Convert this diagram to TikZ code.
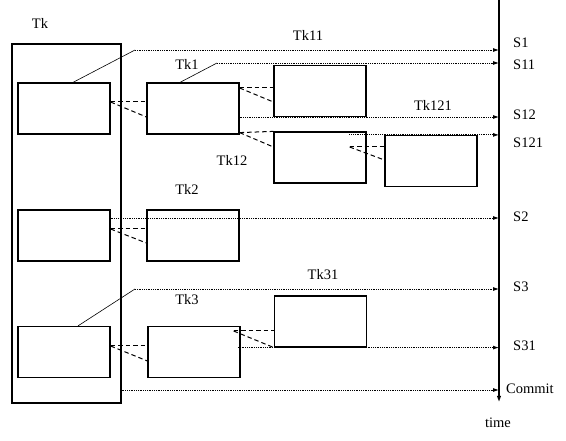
\documentclass[tikz,border=0pt]{standalone}
\usepackage{fontspec}
\setmainfont{Liberation Serif}
\usepackage{tikz}
\usetikzlibrary{positioning, arrows.meta, calc}

\begin{document}
\begin{tikzpicture}[x=1pt, y=-1pt,
    box/.style={draw, rectangle, minimum width=92pt, minimum height=51pt, inner sep=0pt, line width=1.2pt},
    lbl/.style={inner sep=0pt, font=\fontsize{14.5}{16}\selectfont},
    link/.style={line width=1pt, dash pattern=on 4.5pt off 3pt},
    lead/.style={line width=0.6pt},
    msg/.style={densely dotted, line width=0.8pt, -{Latex[length=6pt, width=4pt]}}
]
\useasboundingbox (0,0) rectangle (566,441);

% --- BOXES ---
\node[box, minimum width=109pt, minimum height=359pt] (tk) at (66.5, 223.5) {};
\node[box] (a1) at (64, 108.5) {};
\node[box] (a2) at (64, 235.5) {};
\node[box] (a3) at (64, 352) {};

\node[box] (tk1) at (193, 108.5) {};
\node[box] (tk2) at (193, 235.5) {};
\node[box] (tk3) at (194, 352) {};

\node[box] (tk11) at (320, 91) {};
\node[box] (tk12) at (320, 157.5) {};
\node[box] (tk121) at (431, 161) {};
\node[box] (tk31) at (320.5, 321.5) {};

% --- TIME AXIS ---
\coordinate (ttop) at (499, 0);
\coordinate (tbot) at (499, 405);
\draw[line width=2pt, -{Latex[length=9pt, width=4pt]}] (ttop) -- (tbot);

% --- LABELS ---
\node[lbl] (ltk) at (40, 23) {Tk};
\node[lbl] (ltk1) at (187, 64) {Tk1};
\node[lbl] (ltk11) at (308, 35) {Tk11};
\node[lbl] (ltk12) at (232, 160) {Tk12};
\node[lbl] (ltk121) at (433, 105) {Tk121};
\node[lbl] (ltk2) at (187, 189) {Tk2};
\node[lbl] (ltk3) at (187, 300) {Tk3};
\node[lbl] (ltk31) at (323, 275) {Tk31};

\node[lbl, anchor=west] (s1) at (513, 43) {S1};
\node[lbl, anchor=west] (s11) at (513, 65) {S11};
\node[lbl, anchor=west] (s12) at (513, 115) {S12};
\node[lbl, anchor=west] (s121) at (513, 143) {S121};
\node[lbl, anchor=west] (s2) at (513, 217) {S2};
\node[lbl, anchor=west] (s3) at (513, 287) {S3};
\node[lbl, anchor=west] (s31) at (513, 346) {S31};
\node[lbl, anchor=west] (commit) at (506, 389) {Commit};
\node[lbl] (time) at (498, 423) {time};

% --- SUB-TRANSACTION LINKS ---
\draw[link] ([yshift=6.5pt]a1.east) -- ([yshift=6.5pt]tk1.west);
\draw[link] ([yshift=6.5pt]a1.east) -- ([yshift=-8.5pt]tk1.west);
\draw[link] ([yshift=20.5pt]tk1.east) -- ([yshift=3pt]tk11.west);
\draw[link] ([yshift=20.5pt]tk1.east) -- ([yshift=-11pt]tk11.west);
\draw[link] ([yshift=2pt]tk1.south east) -- (tk12.north west);
\draw[link] ([yshift=2pt]tk1.south east) -- ([yshift=10.5pt]tk12.west);
\draw[link] ([xshift=-17pt, yshift=10.5pt]tk12.east) -- ([yshift=14pt]tk121.west);
\draw[link] ([xshift=-17pt, yshift=10.5pt]tk12.east) -- ([yshift=1pt]tk121.west);
\draw[link] ([yshift=6.5pt]a2.east) -- ([yshift=6.5pt]tk2.west);
\draw[link] ([yshift=6.5pt]a2.east) -- ([yshift=-7.5pt]tk2.west);
\draw[link] ([yshift=6pt]a3.east) -- ([yshift=6pt]tk3.west);
\draw[link] ([yshift=6pt]a3.east) -- ([yshift=-9pt]tk3.west);
\draw[link] ([xshift=-7pt, yshift=21pt]tk3.east) -- ([yshift=-9.5pt]tk31.west);
\draw[link] ([xshift=-7pt, yshift=21pt]tk3.east) -- (tk31.south west);

% --- MESSAGES TO THE TIME AXIS ---
\coordinate (k1) at (135, 50);
\coordinate (k11) at (217, 63);
\coordinate (k3) at (135, 289);
\draw[lead] ([xshift=9pt]a1.north) -- (k1);
\draw[msg] (k1) -- (k1 -| ttop);
\draw[lead] ([xshift=-13pt]tk1.north) -- (k11);
\draw[msg] (k11) -- (k11 -| ttop);
\draw[msg] ([yshift=-8.5pt]tk1.east) -- ([yshift=-8.5pt]tk1.east -| ttop);
\draw[msg] ([xshift=-35pt]tk121.north west) -- (tk121.north west -| ttop);
\draw[msg] ([yshift=17.5pt]a2.east) -- ([yshift=17.5pt]a2.east -| ttop);
\draw[lead] ([xshift=14pt]a3.north) -- (k3);
\draw[msg] (k3) -- (k3 -| ttop);
\draw[msg] ([xshift=-36pt]tk31.south west) -- (tk31.south west -| ttop);
\draw[msg] ([yshift=-166.5pt]tk.east) -- ([yshift=-166.5pt]tk.east -| ttop);
\end{tikzpicture}
\end{document}
